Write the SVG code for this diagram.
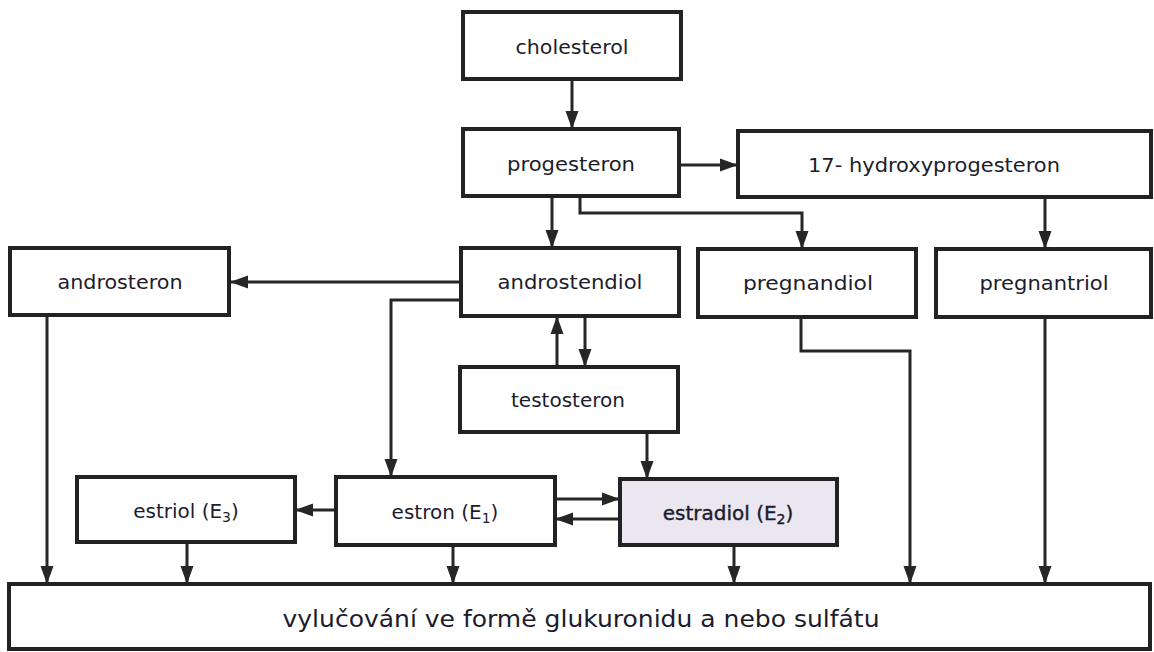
<svg xmlns="http://www.w3.org/2000/svg" width="1154" height="652" viewBox="0 0 1154 652">
<style>
.box{fill:#ffffff;stroke:#222222;stroke-width:4}
.shade{fill:#ebe7f0;stroke:#222222;stroke-width:4}
.lbl{font-family:"DejaVu Sans","Liberation Sans",sans-serif;font-size:20px;fill:#1c1c2c;text-anchor:middle}
.big{font-size:23px}
.sub{font-size:14px}
.con{fill:none;stroke:#262626;stroke-width:3}
</style>
<defs>
<marker id="ah" markerUnits="userSpaceOnUse" markerWidth="18" markerHeight="14" viewBox="0 0 18 14" refX="17" refY="7" orient="auto">
<path d="M0,0.5 L18,7 L0,13.5 Z" fill="#262626"/>
</marker>
</defs>
<rect width="1154" height="652" fill="#ffffff"/>
<g id="connectors">
<path class="con" d="M572,79 V128" marker-end="url(#ah)"/>
<path class="con" d="M679,165 H737" marker-end="url(#ah)"/>
<path class="con" d="M552,196 V247" marker-end="url(#ah)"/>
<path class="con" d="M580,196 V213 H802 V248" marker-end="url(#ah)"/>
<path class="con" d="M1045,197 V248" marker-end="url(#ah)"/>
<path class="con" d="M461,282 H231" marker-end="url(#ah)"/>
<path class="con" d="M461,300 H391 V476" marker-end="url(#ah)"/>
<path class="con" d="M557,367 V317" marker-end="url(#ah)"/>
<path class="con" d="M585,316 V366" marker-end="url(#ah)"/>
<path class="con" d="M647,432 V478" marker-end="url(#ah)"/>
<path class="con" d="M555,499 H619" marker-end="url(#ah)"/>
<path class="con" d="M620,519 H556" marker-end="url(#ah)"/>
<path class="con" d="M336,510 H296" marker-end="url(#ah)"/>
<path class="con" d="M47,315 V583" marker-end="url(#ah)"/>
<path class="con" d="M187,542 V583" marker-end="url(#ah)"/>
<path class="con" d="M453,545 V583" marker-end="url(#ah)"/>
<path class="con" d="M734,545 V583" marker-end="url(#ah)"/>
<path class="con" d="M801,317 V351 H910 V583" marker-end="url(#ah)"/>
<path class="con" d="M1045,317 V583" marker-end="url(#ah)"/>
</g>
<g id="cholesterol"><rect class="box" x="463" y="12" width="218" height="67"/><text class="lbl" x="572" y="54" textLength="113" lengthAdjust="spacingAndGlyphs">cholesterol</text></g>
<g id="progesteron"><rect class="box" x="463" y="129" width="216" height="67"/><text class="lbl" x="571" y="171" textLength="128" lengthAdjust="spacingAndGlyphs">progesteron</text></g>
<g id="hydroxyprogesteron"><rect class="box" x="738" y="131" width="413" height="66"/><text class="lbl" x="934" y="172" textLength="252" lengthAdjust="spacingAndGlyphs">17- hydroxyprogesteron</text></g>
<g id="androsteron"><rect class="box" x="10" y="248" width="219" height="67"/><text class="lbl" x="120" y="289" textLength="125" lengthAdjust="spacingAndGlyphs">androsteron</text></g>
<g id="androstendiol"><rect class="box" x="461" y="248" width="218" height="68"/><text class="lbl" x="570" y="289" textLength="145" lengthAdjust="spacingAndGlyphs">androstendiol</text></g>
<g id="pregnandiol"><rect class="box" x="698" y="249" width="218" height="68"/><text class="lbl" x="808" y="290" textLength="130" lengthAdjust="spacingAndGlyphs">pregnandiol</text></g>
<g id="pregnantriol"><rect class="box" x="936" y="249" width="215" height="68"/><text class="lbl" x="1044" y="290" textLength="129" lengthAdjust="spacingAndGlyphs">pregnantriol</text></g>
<g id="testosteron"><rect class="box" x="460" y="367" width="218" height="65"/><text class="lbl" x="568" y="407" textLength="114" lengthAdjust="spacingAndGlyphs">testosteron</text></g>
<g id="estriol"><rect class="box" x="77" y="477" width="218" height="65"/><text class="lbl" x="186" y="518">estriol (E<tspan class="sub" dy="4">3</tspan><tspan dy="-4">)</tspan></text></g>
<g id="estron"><rect class="box" x="336" y="477" width="219" height="68"/><text class="lbl" x="445" y="519">estron (E<tspan class="sub" dy="4">1</tspan><tspan dy="-4">)</tspan></text></g>
<g id="estradiol"><rect class="shade" x="620" y="479" width="217" height="66"/><text class="lbl" x="728" y="520" stroke="#1c1c2c" stroke-width="0.4">estradiol (E<tspan class="sub" dy="4">2</tspan><tspan dy="-4">)</tspan></text></g>
<g id="vylucovani"><rect class="box" x="9" y="584" width="1141" height="65"/><text class="lbl big" x="581" y="627" textLength="597" lengthAdjust="spacingAndGlyphs">vylučování ve formě glukuronidu a nebo sulfátu</text></g>
</svg>
